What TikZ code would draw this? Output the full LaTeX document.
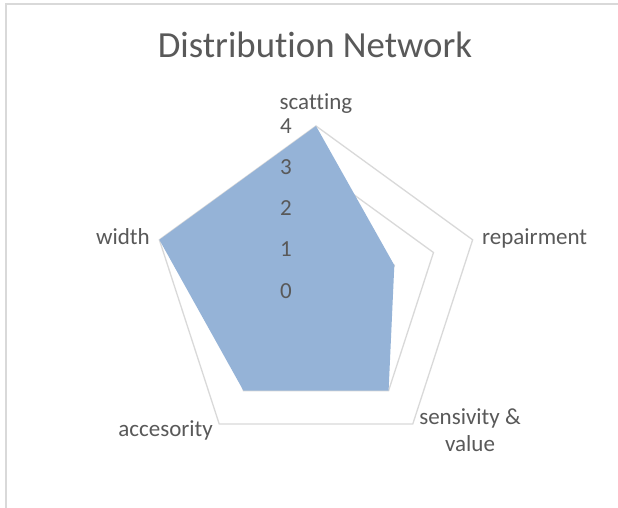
\documentclass[tikz,border=0pt]{standalone}
\usepackage{fontspec}
\setmainfont{Carlito}[Ligatures=NoCommon]
\definecolor{txtc}{HTML}{595959}
\definecolor{gridc}{HTML}{D9D9D9}
\definecolor{fillc}{HTML}{95B3D7}
\begin{document}
\begin{tikzpicture}[x=1pt,y=1pt,
  lbl/.style={text=txtc,font=\fontsize{23}{27}\selectfont,inner sep=0pt},
  ticklbl/.style={text=txtc,font=\fontsize{23}{27}\selectfont,inner sep=0pt,anchor=east},
  gridline/.style={draw=gridc,line width=1.3pt,line join=miter},
  frameline/.style={draw=gridc,line width=1.4pt}]
\useasboundingbox (0,0) rectangle (618,508);
\fill[white] (0,0) rectangle (618,508);
% chart frame
\coordinate (fb) at (6,0);
\coordinate (ftl) at (6,504);
\coordinate (fr) at (618,504);
\draw[frameline] (fb) -- (ftl) -- (fr);
% title
\node[lbl,font=\fontsize{36.8}{42}\selectfont,anchor=base] (title) at (315,450) {Distribution Network};
% radar
\begin{scope}[shift={(316,217.3)}]
  \foreach \k in {1,2,3,4}{
    \pgfmathsetmacro{\rr}{\k*41.175}
    \coordinate (g\k a) at (90:\rr);
    \coordinate (g\k b) at (18:\rr);
    \coordinate (g\k c) at (-54:\rr);
    \coordinate (g\k d) at (-126:\rr);
    \coordinate (g\k e) at (162:\rr);
    \draw[gridline] (g\k a) -- (g\k b) -- (g\k c) -- (g\k d) -- (g\k e) -- cycle;
  }
  \coordinate (d1) at (90:164.7);
  \coordinate (d2) at (18:82.35);
  \coordinate (d3) at (-54:123.5);
  \coordinate (d4) at (-126:123.5);
  \coordinate (d5) at (162:164.7);
  \fill[fillc] (d1) -- (d2) -- (d3) -- (d4) -- (d5) -- cycle;
\end{scope}
% axis tick labels
\node[ticklbl] (t0) at (292,217.3) {0};
\node[ticklbl] (t1) at (292,258.5) {1};
\node[ticklbl] (t2) at (292,299.7) {2};
\node[ticklbl] (t3) at (292,340.8) {3};
\node[ticklbl] (t4) at (292,382.0) {4};
% category labels
\node[lbl,anchor=base] (scat) at (316,398) {scatting};
\node[lbl,anchor=base west] (rep) at (482,263) {repairment};
\node[lbl,anchor=base east] (wid) at (150,263) {width};
\node[lbl,anchor=base] (sens) at (470,83) {sensivity \&};
\node[lbl,anchor=base] (val) at (470,56) {value};
\node[lbl,anchor=base east] (acc) at (213,71) {accesority};
\end{tikzpicture}
\end{document}
